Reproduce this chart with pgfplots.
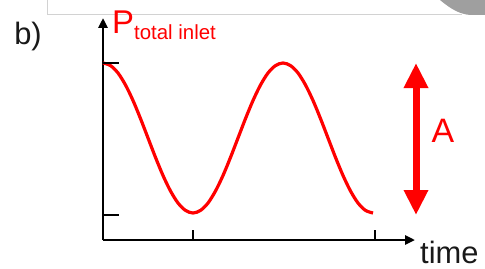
\documentclass[border=0pt]{standalone}
\usepackage{pgfplots}
\pgfplotsset{compat=1.18}
\usetikzlibrary{arrows.meta}
\usepackage{fontspec}
\setmainfont{Liberation Sans}
\definecolor{pred}{RGB}{255,0,0}
\begin{document}
\begin{tikzpicture}[x=1bp,y=1bp]
\useasboundingbox (0,0) rectangle (485,268);
% background decoration (frame of a neighbouring panel)
\draw[gray!35, line width=1bp] (47,268) -- (47,253) -- (462,253);
\fill[gray!75] (440,268) .. controls (452,258) and (460,254) .. (470,253) -- (485,253) -- (485,268) -- cycle;
\begin{axis}[
  at={(103bp,28bp)}, anchor=south west,
  scale only axis, width=312bp, height=222bp,
  xmin=0, xmax=312, ymin=0, ymax=222,
  axis lines=left,
  axis line style={line width=2.6bp, black, -{Triangle[length=10bp,width=9bp]}},
  xtick=\empty, ytick=\empty,
  clip=false,
]
\addplot[pred, line width=3.2bp, smooth] coordinates {
(0,177) (7.5,174.4) (15,167.0) (22.5,155.0) (30,139.5) (37.5,121.4) (45,102)
(52.5,82.6) (60,64.5) (67.5,49.0) (75,37.0) (82.5,29.6) (90,27)
(97.5,29.6) (105,37.0) (112.5,49.0) (120,64.5) (127.5,82.6) (135,102)
(142.5,121.4) (150,139.5) (157.5,155.0) (165,167.0) (172.5,174.4) (180,177)
(187.5,174.4) (195,167.0) (202.5,155.0) (210,139.5) (217.5,121.4) (225,102)
(232.5,82.6) (240,64.5) (247.5,49.0) (255,37.0) (262.5,29.6) (270,27)
};
% ticks
\draw[black, line width=2.2bp] (axis cs:0,177) -- (axis cs:16,177);
\draw[black, line width=2.2bp] (axis cs:0,25) -- (axis cs:16,25);
\draw[black, line width=2.2bp] (axis cs:90,0) -- (axis cs:90,10);
\draw[black, line width=2.2bp] (axis cs:272,0) -- (axis cs:272,10);
\end{axis}
% amplitude arrow
\draw[pred, line width=7bp, {Triangle[length=25bp,width=23bp]}-{Triangle[length=25bp,width=23bp]}] (416,268-63) -- (416,268-215);
\node[pred, font=\fontsize{34}{34}\selectfont] at (443,268-131) {A};
\node[black!90, font=\fontsize{31}{31}\selectfont] at (28,268-37) {b)};
\node[pred, anchor=base west, inner sep=0pt] at (112,268-33) {\fontsize{33}{33}\selectfont P\fontsize{20.5}{20.5}\selectfont\raisebox{-6bp}{total inlet}};
\node[black!90, anchor=base west, inner sep=0pt, font=\fontsize{31}{31}\selectfont] at (420,268-263) {time};
\end{tikzpicture}
\end{document}
